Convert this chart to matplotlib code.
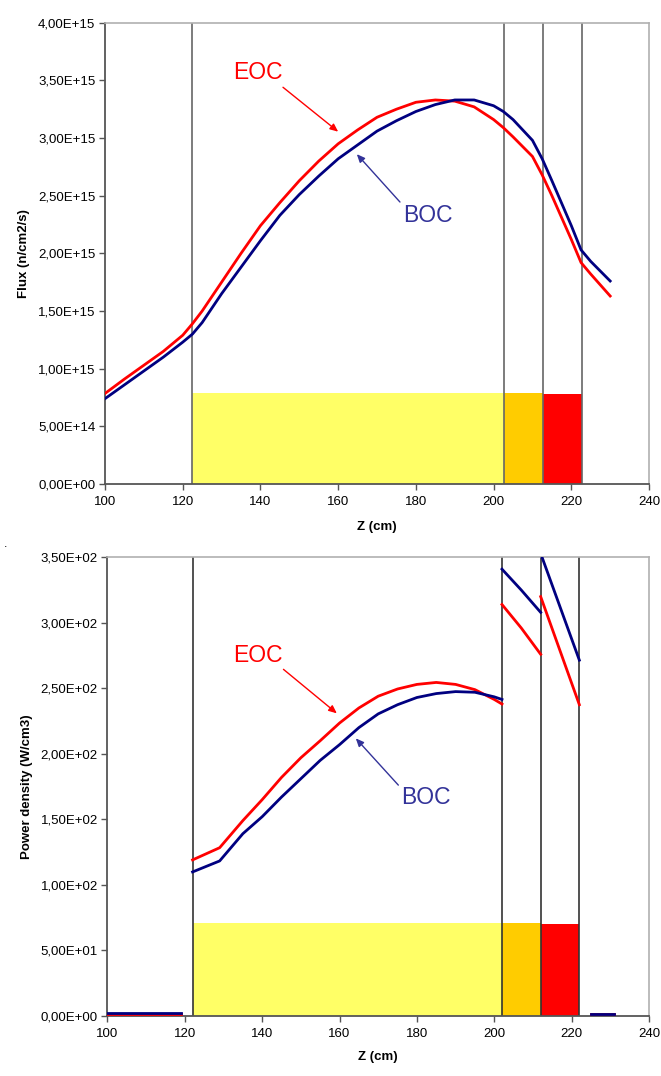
"""
Axial flux and power density profiles, BOC vs EOC, with core zones shaded.
"""

import matplotlib
matplotlib.use("Agg")
import matplotlib.pyplot as plt
from matplotlib.ticker import FuncFormatter, MultipleLocator

plt.rcParams.update({
    "font.family": ["Liberation Sans", "DejaVu Sans"],
    "font.size": 9.5,
    "axes.linewidth": 1.2,
})

# ---- flux data (top panel) ----
z_flux = [100, 105, 110, 115, 120, 122.5, 125, 130, 135, 140, 145, 150, 155,
          160, 165, 170, 175, 180, 185, 190, 195, 200, 202.5, 205, 210,
          212.5, 215, 220, 222.5, 225, 230]
flux_boc = [0.74e15, 0.86e15, 0.98e15, 1.10e15, 1.23e15, 1.30e15, 1.40e15,
            1.65e15, 1.88e15, 2.11e15, 2.33e15, 2.51e15, 2.67e15, 2.82e15,
            2.94e15, 3.06e15, 3.15e15, 3.23e15, 3.29e15, 3.33e15, 3.33e15,
            3.28e15, 3.23e15, 3.16e15, 2.98e15, 2.82e15, 2.63e15, 2.24e15,
            2.03e15, 1.93e15, 1.76e15]
flux_eoc = [0.785e15, 0.91e15, 1.03e15, 1.15e15, 1.29e15, 1.39e15, 1.50e15,
            1.75e15, 2.00e15, 2.24e15, 2.44e15, 2.63e15, 2.80e15, 2.95e15,
            3.07e15, 3.18e15, 3.25e15, 3.31e15, 3.33e15, 3.32e15, 3.27e15,
            3.16e15, 3.09e15, 3.01e15, 2.84e15, 2.68e15, 2.50e15, 2.12e15,
            1.92e15, 1.82e15, 1.63e15]
flux_bounds = [122.5, 202.7, 212.8, 222.8]
flux_zone_heights = [7.9e14, 7.85e14, 7.8e14]

# ---- power density data (bottom panel), one list per zone ----
z_pd_refl_low = [100, 119]
pd_boc_refl_low = [2.0, 2.0]
pd_eoc_refl_low = [1.5, 1.5]

z_pd_zone1 = [122, 129, 135, 140, 145, 150, 155, 160, 165, 170, 175, 180,
              185, 190, 195, 200, 202]
pd_boc_zone1 = [109.8, 118.2, 139, 152, 167, 181, 195, 207, 220, 230.5, 237.5,
                243, 246, 247.5, 247, 243.5, 241.5]
pd_eoc_zone1 = [119, 128.3, 149, 165, 182, 197, 210, 223.5, 235, 244, 249.5,
                253, 254.5, 253, 249, 241.5, 238]

z_pd_zone2 = [202, 207, 212]
pd_boc_zone2 = [341, 325, 308]
pd_eoc_zone2 = [314, 296, 276]

z_pd_zone3 = [212, 222]
pd_boc_zone3 = [353, 271.5]
pd_eoc_zone3 = [320, 237.5]

z_pd_refl_high = [225, 231]
pd_boc_refl_high = [1.5, 1.5]
pd_eoc_refl_high = [1.0, 1.0]

pd_bounds = [122, 202, 212, 221.8]
pd_zone_heights = [71, 70.5, 70]

zone_colors = ["#FFFF66", "#FFCC00", "#FF0000"]
RED = "#FF0000"
NAVY = "#000080"
BOC_TXT = "#333399"


def sci_comma(v, pos):
    return f"{v:.2E}".replace(".", ",")


def style_axes(ax):
    for side in ["left", "bottom"]:
        ax.spines[side].set_color("#555555")
        ax.spines[side].set_linewidth(1.3)
    for side in ["top", "right"]:
        ax.spines[side].set_color("#b0b0b0")
        ax.spines[side].set_linewidth(1.2)
    ax.tick_params(axis="both", direction="out", length=4, width=1,
                   color="#555555", labelsize=9.5)
    ax.tick_params(axis="x", pad=5)
    ax.tick_params(axis="y", pad=3)
    ax.yaxis.set_major_formatter(FuncFormatter(sci_comma))
    ax.xaxis.set_major_locator(MultipleLocator(20))
    ax.set_xlim(100, 240)


def draw_zones(ax, bounds, heights, line_color):
    lefts = bounds[:-1]
    widths = [b - a for a, b in zip(bounds[:-1], bounds[1:])]
    ax.bar(lefts, heights, width=widths, align="edge", color=zone_colors,
           linewidth=0, zorder=1)
    for b in bounds:
        ax.axvline(b, color=line_color, lw=1.2, zorder=2)


def label(ax, text, color, xy_text, xy_from, xy_to):
    ax.text(xy_text[0], xy_text[1], text, color=color, fontsize=16.5,
            ha="center", va="center", zorder=5)
    ax.annotate("", xy=xy_to, xytext=xy_from,
                arrowprops=dict(arrowstyle="-|>,head_length=0.5,head_width=0.22",
                                color=color, lw=1.0, shrinkA=0, shrinkB=0),
                zorder=5)


fig = plt.figure(figsize=(6.61, 10.76), dpi=100)

# ---- top: flux ----
ax1 = fig.add_axes([0.1589, 0.5502, 0.8230, 0.4287])
draw_zones(ax1, flux_bounds, flux_zone_heights, "#666666")
ax1.plot(z_flux, flux_eoc, color=RED, lw=2.0, zorder=3)
ax1.plot(z_flux, flux_boc, color=NAVY, lw=2.0, zorder=4)
ax1.set_ylim(0, 4.0e15)
ax1.yaxis.set_major_locator(MultipleLocator(0.5e15))
style_axes(ax1)
ax1.set_xlabel("Z (cm)", fontweight="bold")
ax1.set_ylabel("Flux (n/cm2/s)", fontweight="bold")
ax1.xaxis.set_label_coords(0.5, -0.080)
ax1.yaxis.set_label_coords(-0.138, 0.5)
label(ax1, "EOC", RED, (139.4, 3.57e15), (145.8, 3.44e15), (160.0, 3.055e15))
label(ax1, "BOC", BOC_TXT, (183.1, 2.33e15), (175.9, 2.445e15), (164.8, 2.86e15))

# ---- bottom: power density ----
ax2 = fig.add_axes([0.1626, 0.0560, 0.8192, 0.4260])
draw_zones(ax2, pd_bounds, pd_zone_heights, "#333333")
segments = [
    (z_pd_refl_low, pd_eoc_refl_low, pd_boc_refl_low),
    (z_pd_zone1, pd_eoc_zone1, pd_boc_zone1),
    (z_pd_zone2, pd_eoc_zone2, pd_boc_zone2),
    (z_pd_zone3, pd_eoc_zone3, pd_boc_zone3),
    (z_pd_refl_high, pd_eoc_refl_high, pd_boc_refl_high),
]
for z, eoc, boc in segments:
    ax2.plot(z, eoc, color=RED, lw=2.0, zorder=3)
    ax2.plot(z, boc, color=NAVY, lw=2.0, zorder=4)
ax2.set_ylim(0, 350)
ax2.yaxis.set_major_locator(MultipleLocator(50))
style_axes(ax2)
ax2.set_xlabel("Z (cm)", fontweight="bold")
ax2.set_ylabel("Power density (W/cm3)", fontweight="bold")
ax2.xaxis.set_label_coords(0.5, -0.078)
ax2.yaxis.set_label_coords(-0.138, 0.5)
label(ax2, "EOC", RED, (138.8, 275.4), (145.5, 264.5), (159.3, 230.9))
label(ax2, "BOC", BOC_TXT, (182.3, 166.6), (175.2, 176.1), (164.2, 211.8))

# stray dot between the panels in the original
fig.text(0.006, 1 - 544 / 1076, ".", fontsize=9, ha="left", va="center")

fig.savefig("out.png", dpi=100)
